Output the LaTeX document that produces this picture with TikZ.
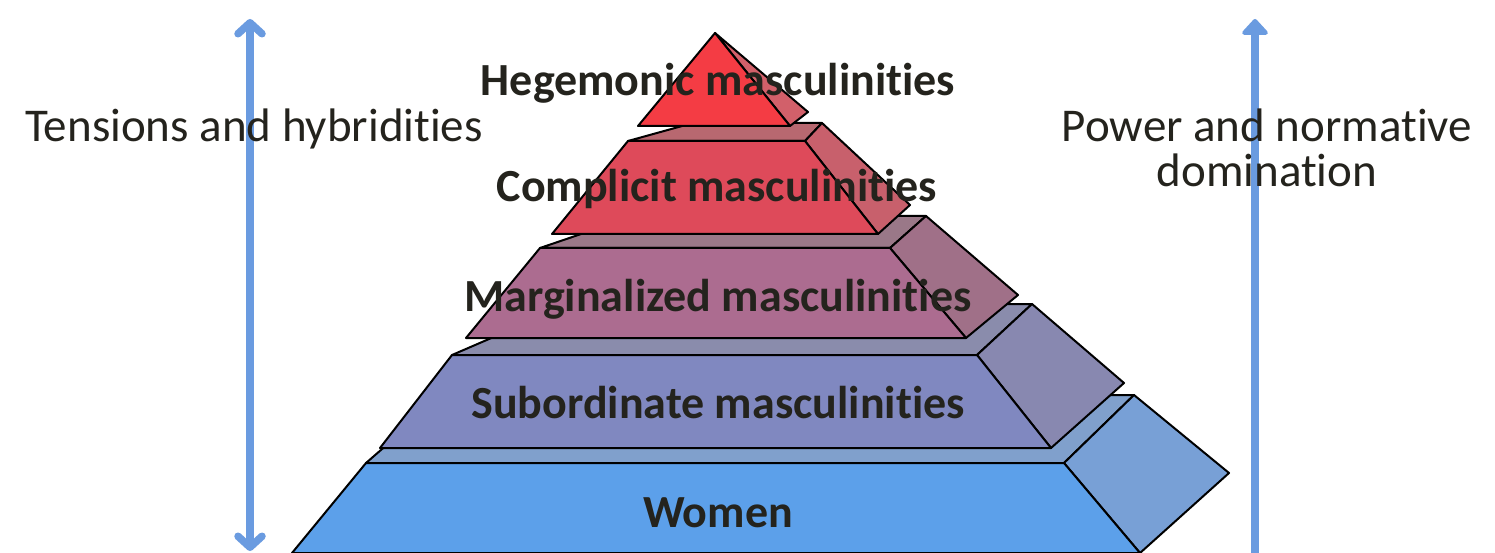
\documentclass[tikz,border=0pt]{standalone}
\usepackage{fontspec}
\setmainfont{Carlito}[Ligatures={NoCommon,NoContextual}]
\usetikzlibrary{arrows.meta}
\definecolor{txt}{HTML}{24231D}
\definecolor{arr}{HTML}{6A9BE0}
\definecolor{triF}{HTML}{F43C44}
\definecolor{triS}{HTML}{D2606A}
\definecolor{comF}{HTML}{DE4A5A}
\definecolor{comT}{HTML}{B86870}
\definecolor{comS}{HTML}{C8606C}
\definecolor{marF}{HTML}{AC6C90}
\definecolor{marT}{HTML}{9A7888}
\definecolor{marS}{HTML}{A07088}
\definecolor{subF}{HTML}{8088C0}
\definecolor{subT}{HTML}{8A8CAC}
\definecolor{subS}{HTML}{8888B0}
\definecolor{womF}{HTML}{5CA0EA}
\definecolor{womT}{HTML}{80A0CC}
\definecolor{womS}{HTML}{78A0D6}
\begin{document}
\begin{tikzpicture}[x=1pt,y=-1pt,
  face/.style={draw=black,line width=2pt,line join=round},
  lbl/.style={font=\fontsize{46}{54}\selectfont\bfseries,text=txt,anchor=base,inner sep=0pt},
  sidelbl/.style={font=\fontsize{47}{45}\selectfont,text=txt,anchor=base,inner sep=0pt,align=center},
  arrline/.style={draw=arr,line width=7.5pt}]
\useasboundingbox (0,0) rectangle (1495,553);
\fill[white] (0,0) rectangle (1495,553);
% arrows
\coordinate (latop) at (250,19);
\coordinate (labot) at (250,551);
\coordinate (ratop) at (1255,19);
\coordinate (rabot) at (1255,556);
\draw[arrline,{Straight Barb[round,length=11pt,width=24pt]}-{Straight Barb[round,length=11pt,width=24pt]}] (labot) -- (latop);
\draw[arrline,-{Triangle[round,length=17pt,width=30pt]}] (rabot) -- (ratop);
% Women
\coordinate (wfl) at (366,463); \coordinate (wfr) at (1064,463);
\coordinate (wbr) at (1134,395); \coordinate (wbl) at (444,395);
\coordinate (wr) at (1229,473); \coordinate (wfbr) at (1140,553);
\coordinate (wfbl) at (292,553);
\filldraw[face,fill=womT] (wfl) -- (wfr) -- (wbr) -- (wbl) -- cycle;
\filldraw[face,fill=womS] (wfr) -- (wbr) -- (wr) -- (wfbr) -- cycle;
\filldraw[face,fill=womF] (wfl) -- (wfr) -- (wfbr) -- (wfbl) -- cycle;
% Subordinate
\coordinate (sfl) at (452,355); \coordinate (sfr) at (977,355);
\coordinate (sbr) at (1032,304); \coordinate (sbl) at (570,304);
\coordinate (sr) at (1124,383); \coordinate (sfbr) at (1051,448);
\coordinate (sfbl) at (380,448);
\filldraw[face,fill=subT] (sfl) -- (sfr) -- (sbr) -- (sbl) -- cycle;
\filldraw[face,fill=subS] (sfr) -- (sbr) -- (sr) -- (sfbr) -- cycle;
\filldraw[face,fill=subF] (sfl) -- (sfr) -- (sfbr) -- (sfbl) -- cycle;
% Marginalized
\coordinate (mfl) at (540,248); \coordinate (mfr) at (890,248);
\coordinate (mbr) at (926,216); \coordinate (mbl) at (634,216);
\coordinate (mr) at (1018,295); \coordinate (mfbr) at (966,338);
\coordinate (mfbl) at (466,338);
\filldraw[face,fill=marT] (mfl) -- (mfr) -- (mbr) -- (mbl) -- cycle;
\filldraw[face,fill=marS] (mfr) -- (mbr) -- (mr) -- (mfbr) -- cycle;
\filldraw[face,fill=marF] (mfl) -- (mfr) -- (mfbr) -- (mfbl) -- cycle;
% Complicit
\coordinate (cfl) at (628,141); \coordinate (cfr) at (805,141);
\coordinate (cbr) at (822,123); \coordinate (cbl) at (693,123);
\coordinate (cr) at (910,205); \coordinate (cfbr) at (878,234);
\coordinate (cfbl) at (552,234);
\filldraw[face,fill=comT] (cfl) -- (cfr) -- (cbr) -- (cbl) -- cycle;
\filldraw[face,fill=comS] (cfr) -- (cbr) -- (cr) -- (cfbr) -- cycle;
\filldraw[face,fill=comF] (cfl) -- (cfr) -- (cfbr) -- (cfbl) -- cycle;
% Hegemonic triangle
\coordinate (hap) at (715,33); \coordinate (hbl) at (638,126);
\coordinate (hbr) at (790,126); \coordinate (hr) at (808,112);
\filldraw[face,fill=triS] (hap) -- (hr) -- (hbr) -- cycle;
\filldraw[face,fill=triF] (hap) -- (hbr) -- (hbl) -- cycle;
% labels
\node[lbl] (heg) at (718,96) {Hegemonic masculinities};
\node[lbl] (com) at (717,202) {Complicit masculinities};
\node[lbl] (mar) at (718,311) {Marginalized masculinities};
\node[lbl] (sub) at (718,418) {Subordinate masculinities};
\node[lbl] (wom) at (718,527) {Women};
\node[sidelbl,anchor=base west] (ten) at (25,142) {Tensions and hybridities};
\node[sidelbl,anchor=base] (pow) at (1267,187) {Power and normative\\domination};
\end{tikzpicture}
\end{document}
